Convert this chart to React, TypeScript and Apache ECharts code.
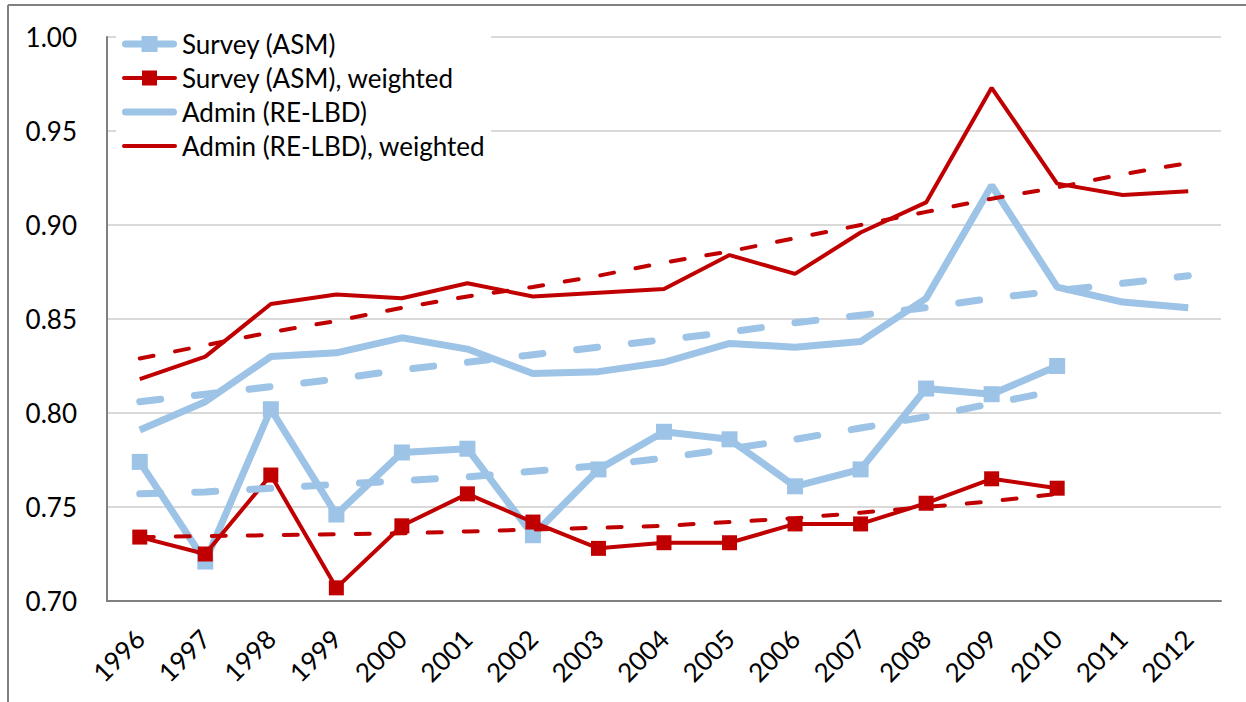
import React, { useEffect, useRef } from "react";
import * as echarts from "echarts";

const years = ["1996", "1997", "1998", "1999", "2000", "2001", "2002", "2003", "2004", "2005", "2006", "2007", "2008", "2009", "2010", "2011", "2012"];

const surveyASM = [0.774, 0.721, 0.802, 0.746, 0.779, 0.781, 0.735, 0.770, 0.790, 0.786, 0.761, 0.770, 0.813, 0.810, 0.825, null, null];
const surveyASMWeighted = [0.734, 0.725, 0.767, 0.707, 0.740, 0.757, 0.742, 0.728, 0.731, 0.731, 0.741, 0.741, 0.752, 0.765, 0.760, null, null];
const adminRELBD = [0.791, 0.806, 0.830, 0.832, 0.840, 0.834, 0.821, 0.822, 0.827, 0.837, 0.835, 0.838, 0.861, 0.921, 0.867, 0.859, 0.856];
const adminRELBDWeighted = [0.818, 0.830, 0.858, 0.863, 0.861, 0.869, 0.862, 0.864, 0.866, 0.884, 0.874, 0.896, 0.912, 0.973, 0.922, 0.916, 0.918];

// trend lines
const surveyASMTrend = [0.757, 0.758, 0.760, 0.762, 0.764, 0.766, 0.769, 0.772, 0.776, 0.781, 0.786, 0.792, 0.798, 0.805, 0.812, null, null];
const surveyASMWeightedTrend = [0.734, 0.7345, 0.735, 0.7355, 0.736, 0.737, 0.738, 0.739, 0.740, 0.742, 0.744, 0.747, 0.750, 0.753, 0.757, null, null];
const adminRELBDTrend = [0.806, 0.810, 0.814, 0.818, 0.823, 0.827, 0.831, 0.835, 0.839, 0.843, 0.848, 0.852, 0.856, 0.861, 0.865, 0.869, 0.873];
const adminRELBDWeightedTrend = [0.829, 0.836, 0.843, 0.849, 0.856, 0.862, 0.867, 0.873, 0.880, 0.886, 0.893, 0.900, 0.907, 0.914, 0.920, 0.927, 0.933];

const seriesNames = ["Survey (ASM)", "Survey (ASM), weighted", "Admin (RE-LBD)", "Admin (RE-LBD), weighted"];

const BLUE = "#9DC3E6";
const RED = "#C00000";
const FONT = "Lato";
const FS = 26;

// legend icons (55 x 26 box): rounded line, optional square marker
const bbox = "M0,0 L0,0 Z M55,26 L55,26 Z ";
const lineIcon = (w: number) => {
  const r = w / 2;
  const y0 = 13 - r;
  const y1 = 13 + r;
  return `M${r},${y0} L${55 - r},${y0} A${r},${r} 0 0 1 ${55 - r},${y1} L${r},${y1} A${r},${r} 0 0 1 ${r},${y0} Z `;
};
const squareIcon = (s: number) => {
  const x0 = 27.5 - s / 2;
  const y0 = 13 - s / 2;
  return `M${x0},${y0} L${x0 + s},${y0} L${x0 + s},${y0 + s} L${x0},${y0 + s} Z`;
};

export default function App() {
  const ref = useRef<HTMLDivElement>(null);

  useEffect(() => {
    if (!ref.current) return;
    const chart = echarts.init(ref.current, null, { renderer: "svg" });
    const dashedBlue = { color: BLUE, width: 7, type: [21, 34], cap: "round" };
    const dashedRed = { color: RED, width: 4, type: [14, 22], cap: "round" };
    chart.setOption({
      animation: false,
      backgroundColor: "#ffffff",
      textStyle: { fontFamily: FONT },
      graphic: [
        { type: "line", shape: { x1: 8, y1: 5, x2: 1246, y2: 5 }, style: { stroke: "#808080", lineWidth: 2 } },
        { type: "line", shape: { x1: 8, y1: 5, x2: 8, y2: 702 }, style: { stroke: "#808080", lineWidth: 2 } },
      ],
      grid: { left: 107, right: 25, top: 37, bottom: 101, containLabel: false },
      legend: {
        data: [
          { name: seriesNames[0], icon: "path://" + bbox + lineIcon(7) + squareIcon(16) },
          { name: seriesNames[1], icon: "path://" + bbox + lineIcon(4) + squareIcon(15) },
          { name: seriesNames[2], icon: "path://" + bbox + lineIcon(7) },
          { name: seriesNames[3], icon: "path://" + bbox + lineIcon(4) },
        ],
        orient: "vertical",
        left: 116,
        top: 25,
        padding: [6, 6, 6, 6],
        backgroundColor: "#ffffff",
        itemWidth: 55,
        itemHeight: 26,
        itemGap: 8,
        itemStyle: { borderWidth: 0 },
        lineStyle: { width: 0, opacity: 0 },
        textStyle: { fontSize: FS, color: "#000", fontFamily: FONT, lineHeight: 26, padding: [0, 0, 0, 0] },
      },
      xAxis: {
        type: "category",
        data: years,
        boundaryGap: true,
        axisLine: { show: true, lineStyle: { color: "#808080", width: 2 } },
        axisTick: { show: false },
        axisLabel: { rotate: 45, fontSize: FS, color: "#000", fontFamily: FONT, margin: 33, interval: 0 },
        splitLine: { show: false },
      },
      yAxis: {
        type: "value",
        min: 0.7,
        max: 1.0,
        interval: 0.05,
        axisLine: { show: true, lineStyle: { color: "#808080", width: 2 } },
        axisTick: { show: false },
        axisLabel: { fontSize: FS, color: "#000", fontFamily: FONT, margin: 30, formatter: (v: number) => v.toFixed(2) },
        splitLine: { show: true, lineStyle: { color: "#D9D9D9", width: 2 } },
      },
      series: [
        {
          name: "Survey (ASM)", type: "line", data: surveyASM, symbol: "rect", symbolSize: 16,
          lineStyle: { color: BLUE, width: 7 }, itemStyle: { color: BLUE }, z: 2,
        },
        {
          name: "Admin (RE-LBD)", type: "line", data: adminRELBD, symbol: "none", showSymbol: false,
          lineStyle: { color: BLUE, width: 7 }, itemStyle: { color: BLUE }, z: 2,
        },
        {
          name: "Survey (ASM), weighted", type: "line", data: surveyASMWeighted, symbol: "rect", symbolSize: 15,
          lineStyle: { color: RED, width: 4 }, itemStyle: { color: RED }, z: 3,
        },
        {
          name: "Admin (RE-LBD), weighted", type: "line", data: adminRELBDWeighted, symbol: "none", showSymbol: false,
          lineStyle: { color: RED, width: 4 }, itemStyle: { color: RED }, z: 3,
        },
        { name: "trend-survey", type: "line", data: surveyASMTrend, symbol: "none", lineStyle: dashedBlue, z: 4, silent: true },
        { name: "trend-admin", type: "line", data: adminRELBDTrend, symbol: "none", lineStyle: dashedBlue, z: 4, silent: true },
        { name: "trend-survey-w", type: "line", data: surveyASMWeightedTrend, symbol: "none", lineStyle: dashedRed, z: 5, silent: true },
        { name: "trend-admin-w", type: "line", data: adminRELBDWeightedTrend, symbol: "none", lineStyle: dashedRed, z: 5, silent: true },
      ],
    });
    return () => chart.dispose();
  }, []);

  return <div ref={ref} style={{ position: "absolute", left: 0, top: 0, width: 1246, height: 702 }} />;
}
